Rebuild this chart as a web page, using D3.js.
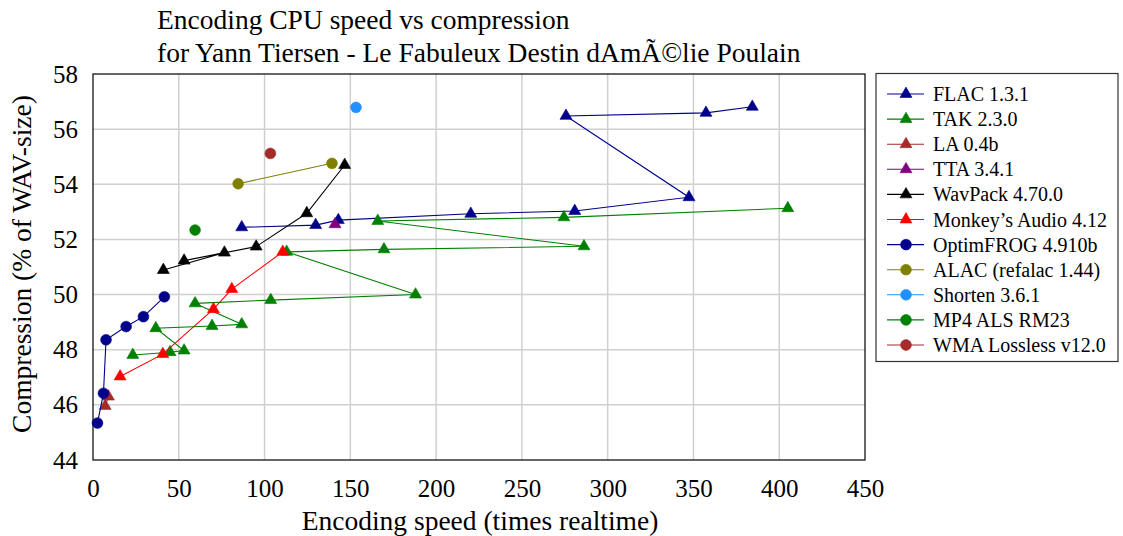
<!DOCTYPE html>
<html><head><meta charset="utf-8">
<script src="https://cdn.jsdelivr.net/npm/d3@7"></script>
<style>
html,body{margin:0;padding:0;background:#fff;}
svg text{font-family:"Liberation Serif","Times New Roman",serif !important;fill:#000;}
</style></head>
<body><svg id="chart" width="1123" height="536"></svg>
<script>
// ---- data ----
const titleLines = ["Encoding CPU speed vs compression", "for Yann Tiersen - Le Fabuleux Destin dAmÃ©lie Poulain"];
const xLabel = "Encoding speed (times realtime)";
const yLabel = "Compression (% of WAV-size)";
const xTicks = [0, 50, 100, 150, 200, 250, 300, 350, 400, 450];
const yTicks = [44, 46, 48, 50, 52, 54, 56, 58];

const seriesNames = ["FLAC 1.3.1", "TAK 2.3.0", "LA 0.4b", "TTA 3.4.1", "WavPack 4.70.0",
  "Monkey\u2019s Audio 4.12", "OptimFROG 4.910b", "ALAC (refalac 1.44)", "Shorten 3.6.1",
  "MP4 ALS RM23", "WMA Lossless v12.0"];
const seriesColors = ["#00008b", "#008000", "#a52a2a", "#800080", "#000000",
  "#ff0000", "#00008b", "#808000", "#1e90ff", "#008000", "#a52a2a"];
const seriesMarkers = ["tri", "tri", "tri", "tri", "tri", "tri", "circ", "circ", "circ", "circ", "circ"];

const flac = [[86.7,52.44],[129.8,52.52],[143,52.70],[220.2,52.93],[280.8,53.03],[347.4,53.53],[275.7,56.48],[357.3,56.59],[384.3,56.81]];
const tak = [[23.2,47.81],[44.9,47.91],[53.1,47.97],[36.6,48.78],[69.4,48.86],[86.7,48.92],[59.5,49.68],[103.6,49.80],[188,50.0],[112.9,51.55],[169.6,51.64],[286.2,51.75],[166,52.67],[274.5,52.80],[405,53.13]];
const la = [[9.0,46.30],[7.1,45.96]];
const tta = [[141.1,52.55]];
const wavpack = [[41.0,50.89],[76.6,51.52],[53.1,51.23],[95.1,51.74],[124.6,52.95],[146.7,54.70]];
const monkeys = [[15.8,47.03],[40.7,47.84],[70.2,49.47],[80.9,50.20],[110.6,51.55]];
const optimfrog = [[2.6,45.34],[6.1,46.42],[7.6,48.36],[19.3,48.84],[29.4,49.20],[41.6,49.92]];
const alac = [[84.6,54.02],[139.3,54.76]];
const shorten = [[153.3,56.79]];
const mp4als = [[59.5,52.34]];
const wma = [[103.4,55.12]];
const seriesData = [flac, tak, la, tta, wavpack, monkeys, optimfrog, alac, shorten, mp4als, wma];

// ---- layout ----
const SERIF = '"Liberation Serif", "Times New Roman", serif';
const svg = d3.select("#chart");
const L = 93, T = 74, W = 772, H = 386;
const x = d3.scaleLinear().domain([0, 450]).range([L, L + W]);
const y = d3.scaleLinear().domain([44, 58]).range([T + H, T]);

// grid
svg.append("g").selectAll("line").data(xTicks.slice(1, -1)).join("line")
  .attr("x1", d => x(d)).attr("x2", d => x(d)).attr("y1", T).attr("y2", T + H)
  .attr("stroke", "#d0d0d0").attr("stroke-width", 1.5);
svg.append("g").selectAll("line").data(yTicks.slice(1, -1)).join("line")
  .attr("y1", d => y(d)).attr("y2", d => y(d)).attr("x1", L).attr("x2", L + W)
  .attr("stroke", "#d0d0d0").attr("stroke-width", 1.5);

// axes tick labels via d3 axes
const xAxis = svg.append("g").attr("transform", `translate(0,${T + H})`)
  .call(d3.axisBottom(x).tickValues(xTicks).tickSize(0).tickPadding(19).tickFormat(d3.format("d")));
xAxis.attr("font-family", null).style("font-family", SERIF);
xAxis.select(".domain").remove();
xAxis.selectAll("text").attr("font-size", 25).style("font-family", SERIF);
const yAxis = svg.append("g").attr("transform", `translate(${L},0)`)
  .call(d3.axisLeft(y).tickValues(yTicks).tickSize(0).tickPadding(15).tickFormat(d3.format("d")));
yAxis.attr("font-family", null).style("font-family", SERIF);
yAxis.select(".domain").remove();
yAxis.selectAll("text").attr("font-size", 25).style("font-family", SERIF);

// frame
svg.append("rect").attr("x", L).attr("y", T).attr("width", W).attr("height", H)
  .attr("fill", "none").attr("stroke", "#000").attr("stroke-width", 1.2);

// marker helper
const triSym = d3.symbol(d3.symbolTriangle, 62);
function drawMarker(g, type, color, cx, cy) {
  if (type === "tri") {
    g.append("path").attr("d", triSym()).attr("transform", `translate(${cx},${cy})`)
      .attr("fill", color).attr("stroke", color).attr("stroke-width", 0.6);
  } else {
    g.append("circle").attr("cx", cx).attr("cy", cy).attr("r", 5.4)
      .attr("fill", color).attr("stroke", color).attr("stroke-width", 0.6);
  }
}

// series
const line = d3.line().x(d => x(d[0])).y(d => y(d[1]));
seriesData.forEach((data, i) => {
  const g = svg.append("g");
  if (data.length > 1) {
    g.append("path").attr("d", line(data)).attr("fill", "none")
      .attr("stroke", seriesColors[i]).attr("stroke-width", 1.1);
  }
  data.forEach(d => drawMarker(g, seriesMarkers[i], seriesColors[i], x(d[0]), y(d[1])));
});

// title
svg.append("g").selectAll("text").data(titleLines).join("text")
  .attr("x", 157).attr("y", (d, i) => 29 + i * 33).attr("font-size", 27.5).text(d => d);

// axis labels
svg.append("text").attr("x", L + W / 2 + 1).attr("y", 530).attr("text-anchor", "middle")
  .attr("font-size", 27.5).text(xLabel);
svg.append("text").attr("transform", `translate(31,${T + H / 2 - 3}) rotate(-90)`)
  .attr("text-anchor", "middle").attr("font-size", 27.5).text(yLabel);

// legend
const lg = svg.append("g");
lg.append("rect").attr("x", 876).attr("y", 73.5).attr("width", 242).attr("height", 288)
  .attr("fill", "#fff").attr("stroke", "#333").attr("stroke-width", 1.2);
seriesNames.forEach((name, i) => {
  const cy = 94 + i * 25.1;
  lg.append("line").attr("x1", 887).attr("x2", 924).attr("y1", cy).attr("y2", cy)
    .attr("stroke", seriesColors[i]).attr("stroke-width", 1.1);
  drawMarker(lg, seriesMarkers[i], seriesColors[i], 906, cy);
  lg.append("text").attr("x", 933).attr("y", cy + 7).attr("font-size", 20).text(name);
});
</script></body></html>
